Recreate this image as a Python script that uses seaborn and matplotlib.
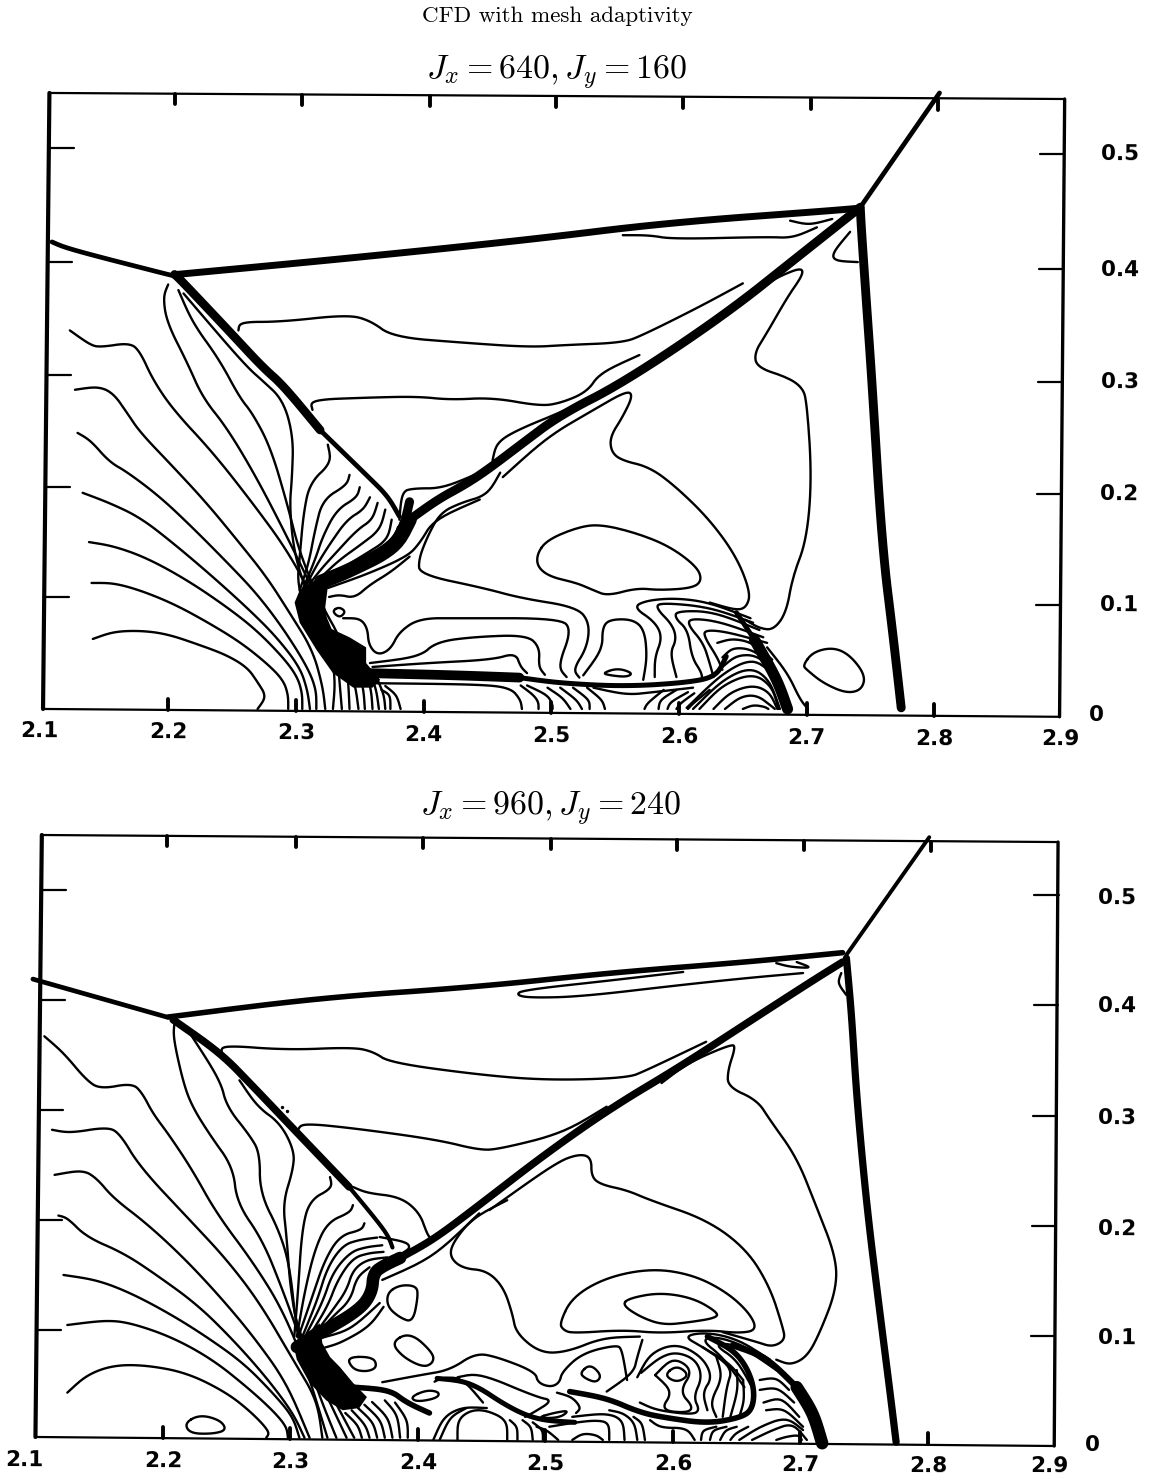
import matplotlib
matplotlib.use("Agg")
import matplotlib.pyplot as plt
import seaborn as sns
import numpy as np

# ---- labels
main_title = "CFD with mesh adaptivity"
top_title = r"$J_x = 640, J_y = 160$"
low_title = r"$J_x = 960, J_y = 240$"
x_labels = ["2.1", "2.2", "2.3", "2.4", "2.5", "2.6", "2.7", "2.8", "2.9"]
y_labels = ["0.5", "0.4", "0.3", "0.2", "0.1", "0"]

# ---- upper panel, contours as (x, y)
top_frame_outer = [(2.107, .550), (2.902, .5446), (2.898, -.007), (2.102, 0), (2.107, .550)]
top_ticks_top = [2.205, 2.305, 2.405, 2.504, 2.603, 2.703, 2.803]
top_ticks_bottom = [2.2, 2.3, 2.4, 2.5, 2.6, 2.7, 2.8]
top_ticks_left = [.501, .399, .298, .198, .100]
top_ticks_right = [.4955, .393, .292, .192, .093]

top_fan = [
    [(2.141,.0625),(2.157,.069),(2.178,.070),(2.199,.067),(2.225,.057),(2.246,.048),(2.262,.037),(2.270,.024),(2.277,.011),(2.270,0)],
    [(2.140,.1125),(2.157,.1125),(2.178,.106),(2.204,.094),(2.230,.078),(2.256,.060),(2.277,.041),(2.290,.026),(2.294,.0125),(2.294,0)],
    [(2.138,.149),(2.157,.1455),(2.183,.135),(2.215,.115),(2.246,.091),(2.269,.0705),(2.290,.046),(2.301,.029),(2.305,.014),(2.305,0)],
    [(2.133,.193),(2.154,.184),(2.178,.171),(2.204,.148),(2.235,.118),(2.264,.088),(2.285,.064),(2.303,.0375),(2.309,.017),(2.311,0)],
    [(2.129,.2465),(2.139,.240),(2.154,.2205),(2.168,.2115),(2.194,.189),(2.219,.162),(2.246,.131),(2.269,.1035),(2.290,.072),(2.309,.0375),(2.316,.017),(2.316,0)],
    [(2.127,.285),(2.145,.288),(2.157,.282),(2.168,.264),(2.178,.247),(2.204,.216),(2.230,.184),(2.256,.148),(2.277,.118),(2.295,.086),(2.313,.053),(2.321,.020),(2.323,0)],
    [(2.123,.338),(2.139,.325),(2.147,.323),(2.170,.327),(2.178,.319),(2.188,.294),(2.204,.267),(2.235,.229),(2.266,.184),(2.293,.142),(2.313,.100),(2.326,.064),(2.331,.026),(2.329,0)],
    [(2.200,.379),(2.196,.368),(2.199,.345),(2.215,.309),(2.227,.278),(2.246,.251),(2.269,.207),(2.293,.154),(2.316,.100),(2.332,.059),(2.334,.026),(2.336,0)],
    [(2.208,.374),(2.219,.345),(2.240,.312),(2.256,.278),(2.266,.264),(2.280,.234),(2.293,.184),(2.303,.139),(2.319,.095),(2.337,.059),(2.341,.026),(2.342,0)],
    [(2.212,.371),(2.248,.323),(2.264,.303),(2.273,.294),(2.290,.276),(2.298,.243),(2.297,.207),(2.295,.180),(2.299,.136),(2.311,.097),(2.329,.068),(2.346,.026),(2.349,0)],
    [(2.325,.236),(2.328,.220),(2.311,.202),(2.306,.175),(2.303,.136),(2.301,.109),(2.315,.062)],
    [(2.342,.209),(2.340,.200),(2.321,.187),(2.315,.160),(2.310,.130),(2.303,.106)],
    [(2.350,.198),(2.348,.189),(2.332,.178),(2.321,.154),(2.315,.133),(2.305,.106)],
    [(2.358,.189),(2.353,.178),(2.340,.169),(2.327,.148),(2.317,.130),(2.306,.106)],
    [(2.364,.184),(2.360,.169),(2.348,.160),(2.331,.139),(2.319,.124),(2.307,.106)],
    [(2.370,.178),(2.366,.160),(2.350,.146),(2.334,.133),(2.320,.118),(2.308,.104)],
    [(2.375,.169),(2.372,.151),(2.354,.138),(2.338,.127),(2.323,.115)],
    [(2.380,.1625),(2.375,.144),(2.358,.133),(2.338,.122)],
    [(2.349,.035),(2.353,.017),(2.354,0)],
    [(2.354,.0365),(2.359,.017),(2.360,0)],
    [(2.358,.033),(2.363,.017),(2.365,0)],
    [(2.364,.026),(2.369,.0125),(2.370,0)],
    [(2.367,.017),(2.374,.0125),(2.374,0)],
    [(2.370,.0205),(2.379,.0125),(2.382,0)],
]
top_blob = [(2.299,.095),(2.303,.106),(2.319,.118),(2.325,.109),(2.323,.091),(2.325,.073),(2.342,.064),(2.355,.055),(2.355,.041),(2.366,.026),(2.360,.019),(2.345,.019),(2.329,.032),(2.316,.053),(2.303,.077)]

top_lines = [
    [(2.325,.108),(2.355,.120),(2.387,.136),(2.397,.148),(2.408,.169),(2.444,.187)],
    [(2.460,.211),(2.450,.191),(2.429,.184),(2.413,.175),(2.403,.154),(2.396,.133),(2.397,.120),(2.447,.108),(2.476,.099),(2.520,.091),(2.530,.077),(2.528,.055),(2.517,.035),(2.522,.028)],
    [(2.326,.100),(2.334,.102),(2.346,.099),(2.358,.111),(2.374,.122),(2.389,.136)],
    [(2.337,.081),(2.350,.081),(2.356,.0725),(2.357,.057),(2.364,.048),(2.374,.053),(2.381,.069),(2.397,.081),(2.428,.081),(2.507,.081),(2.516,.0705),(2.505,.0375),(2.512,.0285)],
    [(2.358,.041),(2.397,.0465),(2.410,.060),(2.441,.0645),(2.481,.066),(2.491,.055),(2.490,.0375),(2.495,.0305)],
    [(2.360,.0375),(2.403,.041),(2.454,.044),(2.472,.050),(2.476,.0375),(2.481,.032)],
    [(2.638,.356),(2.669,.380),(2.681,.3875),(2.696,.394),(2.697,.3875),(2.685,.368),(2.669,.336),(2.659,.318),(2.661,.305),(2.685,.296),(2.696,.2875),(2.700,.276),(2.704,.207),(2.700,.151),(2.689,.118),(2.684,.086),(2.674,.0705),(2.663,.072),(2.652,.0795)],
    [(2.462,.207),(2.497,.243),(2.533,.267),(2.559,.284),(2.564,.280),(2.556,.261),(2.546,.243),(2.547,.2295),(2.555,.222),(2.577,.216),(2.598,.198),(2.624,.169),(2.645,.136),(2.656,.104),(2.653,.091),(2.645,.088),(2.624,.095)],
    [(2.255,.338),(2.256,.3456),(2.288,.3456),(2.340,.352),(2.358,.347),(2.376,.332),(2.431,.327),(2.483,.323),(2.512,.325),(2.556,.327),(2.572,.334),(2.616,.359),(2.650,.380)],
    [(2.313,.267),(2.311,.276),(2.356,.278),(2.395,.279),(2.421,.276),(2.454,.278),(2.491,.2705),(2.507,.273),(2.528,.283),(2.538,.300),(2.569,.316)],
    [(2.381,.169),(2.383,.194),(2.392,.197),(2.415,.197),(2.444,.211)],
    [(2.454,.222),(2.457,.2375),(2.473,.249),(2.512,.267),(2.538,.283)],
    [(2.556,.423),(2.577,.423),(2.595,.4195),(2.669,.4215),(2.689,.4205),(2.708,.430)],
    [(2.687,.436),(2.702,.432),(2.720,.4375)],
    [(2.734,.426),(2.720,.407),(2.722,.400),(2.740,.399)],
    [(2.656,.081),(2.624,.095),(2.598,.099),(2.575,.097),(2.564,.091),(2.581,.078),(2.587,.064),(2.581,.046),(2.581,.0285)],
    [(2.658,.077),(2.624,.091),(2.585,.095),(2.582,.090),(2.595,.075),(2.598,.062),(2.593,.050),(2.598,.0285)],
    [(2.663,.0705),(2.627,.087),(2.598,.0875),(2.597,.081),(2.607,.0705),(2.610,.046),(2.618,.032),(2.618,.025)],
    [(2.666,.064),(2.632,.078),(2.609,.081),(2.607,.075),(2.619,.059),(2.624,.041),(2.627,.0285)],
    [(2.669,.059),(2.637,.069),(2.620,.0705),(2.620,.064),(2.630,.046),(2.634,.035)],
    [(2.650,0),(2.658,.0036),(2.667,.002),(2.670,0)],
    [(2.636,0),(2.648,.011),(2.661,.0125),(2.673,.002),(2.675,0)],
    [(2.627,0),(2.640,.015),(2.658,.0215),(2.671,.015),(2.677,0)],
    [(2.616,0),(2.634,.0215),(2.658,.032),(2.673,.020),(2.678,0)],
    [(2.611,0),(2.634,.026),(2.656,.0375),(2.671,.026),(2.679,0)],
    [(2.606,.001),(2.634,.032),(2.658,.0455),(2.673,.032)],
    [(2.634,.0375),(2.645,.048),(2.661,.048),(2.673,.035)],
    [(2.634,.046),(2.642,.055),(2.658,.053),(2.673,.039)],
    [(2.630,.059),(2.642,.063),(2.658,.059),(2.673,.044)],
    [(2.360,.023),(2.442,.022),(2.468,.019),(2.476,.008),(2.477,0)],
    [(2.476,.021),(2.486,.0125),(2.490,.006),(2.490,0)],
    [(2.481,.021),(2.497,.0125),(2.501,.004),(2.501,0)],
    [(2.497,.019),(2.509,.010),(2.515,0)],
    [(2.507,.019),(2.520,.008),(2.524,0)],
    [(2.517,.019),(2.530,.008),(2.530,0)],
    [(2.528,.019),(2.540,.008),(2.542,0)],
    [(2.533,.019),(2.559,.0125),(2.580,.015),(2.611,.019)],
    [(2.573,0),(2.575,.005),(2.588,.017)],
    [(2.584,0),(2.585,.008),(2.598,.017)],
    [(2.591,0),(2.593,.006),(2.607,.015)],
    [(2.598,0),(2.601,.005),(2.612,.014)],
    [(2.607,0),(2.611,.005),(2.624,.017)],
    [(2.525,.030),(2.540,.053),(2.540,.073),(2.546,.080),(2.564,.080),(2.573,.0705),(2.575,.046),(2.572,.026)],
    [(2.669,.055),(2.685,.032),(2.695,.008),(2.701,0)],
]
top_loops = [
    [(2.329,.088),(2.334,.091),(2.339,.087),(2.335,.082),(2.331,.084)],
    [(2.489,.139),(2.497,.151),(2.520,.162),(2.538,.165),(2.567,.157),(2.593,.145),(2.614,.127),(2.618,.115),(2.611,.108),(2.585,.106),(2.567,.108),(2.544,.101),(2.533,.106),(2.520,.1125),(2.499,.118),(2.489,.127)],
    [(2.540,.032),(2.552,.0365),(2.564,.032),(2.559,.0285),(2.546,.030)],
    [(2.697,.039),(2.705,.051),(2.721,.055),(2.734,.048),(2.746,.030),(2.743,.017),(2.731,.014),(2.713,.023),(2.700,.035)],
]

top_stem_left = [(2.109,.417),(2.121,.411),(2.196,.389),(2.207,.386)]
top_slip = [(2.207,.388),(2.338,.402),(2.483,.419),(2.590,.434),(2.720,.445),(2.740,.447)]
top_ray = [(2.742,.448),(2.804,.550)]
top_shock = [(2.205,.388),(2.209,.384),(2.248,.337),(2.274,.305),(2.290,.289),(2.319,.249)]
top_shock_end = [(2.319,.249),(2.356,.208),(2.372,.190),(2.381,.172)]
top_stem_right = [(2.742,.446),(2.743,.425),(2.747,.359),(2.751,.294),(2.759,.146),(2.768,.062),(2.774,.001)]
top_band = [(2.742,.448),(2.695,.4055),(2.636,.352),(2.556,.291),(2.507,.2625),(2.476,.236),(2.450,.2135),(2.432,.200),(2.411,.187),(2.389,.169)]
top_band_wide = [(2.389,.169),(2.378,.144),(2.339,.122),(2.320,.1135)]
top_junction = [(2.389,.185),(2.385,.165),(2.375,.145)]
top_floor_wide = [(2.356,.032),(2.428,.030),(2.475,.028)]
top_floor = [(2.475,.028),(2.507,.023),(2.559,.020),(2.611,.024),(2.630,.030),(2.637,.047)]
top_bow_upper = [(2.645,.086),(2.659,.062)]
top_bow_lower = [(2.659,.062),(2.677,.026),(2.685,0)]

# ---- lower panel
low_frame_outer = [(2.105, .550), (2.902, .5436), (2.899, -.0055), (2.100, .0027), (2.105, .550)]
low_ticks_top = [2.203, 2.304, 2.404, 2.504, 2.603, 2.703, 2.802]
low_ticks_bottom = [2.2, 2.3, 2.4, 2.5, 2.6, 2.7, 2.8]
low_ticks_left = [.5, .4, .3, .2, .1]
low_ticks_right = [.495, .395, .2945, .1945, .0945]

low_fan = [
    [(2.125,.043),(2.140,.059),(2.161,.068),(2.187,.068),(2.219,.061),(2.250,.043),(2.270,.0245),(2.284,.007),(2.281,.002)],
    [(2.125,.1045),(2.156,.109),(2.176,.106),(2.208,.093),(2.239,.073),(2.266,.048),(2.286,.027),(2.297,.012),(2.298,.002)],
    [(2.122,.150),(2.148,.1455),(2.174,.134),(2.205,.115),(2.234,.094),(2.263,.070),(2.286,.043),(2.302,.021),(2.307,.002)],
    [(2.118,.204),(2.125,.202),(2.140,.1845),(2.169,.170),(2.195,.150),(2.227,.123),(2.255,.091),(2.281,.057),(2.302,.0245),(2.311,.002)],
    [(2.115,.241),(2.137,.2455),(2.148,.238),(2.161,.220),(2.187,.197),(2.216,.166),(2.245,.130),(2.271,.094),(2.297,.052),(2.315,.002)],
    [(2.113,.282),(2.127,.279),(2.156,.2845),(2.166,.279),(2.182,.248),(2.221,.200),(2.250,.164),(2.276,.1245),(2.302,.073),(2.321,.036),(2.325,.002)],
    [(2.107,.367),(2.122,.352),(2.140,.327),(2.151,.319),(2.176,.3245),(2.184,.315),(2.192,.297),(2.205,.277),(2.223,.2455),(2.242,.206),(2.271,.161),(2.294,.118),(2.313,.0635),(2.329,.002)],
    [(2.209,.379),(2.208,.366),(2.216,.3245),(2.223,.303),(2.237,.277),(2.255,.248),(2.258,.2155),(2.278,.182),(2.294,.136),(2.307,.094),(2.323,.039),(2.336,.002)],
    [(2.221,.370),(2.245,.327),(2.250,.303),(2.268,.277),(2.276,.261),(2.276,.2245),(2.292,.188),(2.300,.1545),(2.305,.094),(2.329,.039),(2.344,.002)],
    [(2.260,.327),(2.274,.303),(2.292,.288),(2.303,.263),(2.302,.2455),(2.294,.2155),(2.297,.1845),(2.300,.136),(2.307,.094),(2.333,.039),(2.350,.002)],
    [(2.331,.239),(2.333,.229),(2.315,.218),(2.309,.191),(2.306,.136),(2.303,.094)],
    [(2.349,.2135),(2.347,.207),(2.329,.198),(2.319,.173),(2.311,.134),(2.305,.094)],
    [(2.358,.197),(2.356,.191),(2.339,.186),(2.327,.164),(2.317,.130),(2.306,.093)],
    [(2.368,.184),(2.354,.182),(2.341,.177),(2.329,.157),(2.321,.127),(2.309,.093)],
    [(2.372,.177),(2.360,.1755),(2.347,.171),(2.333,.152),(2.325,.1245),(2.311,.093)],
    [(2.373,.171),(2.362,.170),(2.349,.1655),(2.337,.1455),(2.329,.121),(2.314,.093)],
    [(2.376,.166),(2.360,.164),(2.349,.1545),(2.344,.136),(2.333,.118),(2.317,.093)],
    [(2.362,.157),(2.352,.148),(2.347,.127),(2.333,.112),(2.319,.094)],
    [(2.343,.0245),(2.353,.0135),(2.356,.002)],
    [(2.348,.027),(2.359,.0135),(2.362,.002)],
    [(2.353,.029),(2.365,.016),(2.368,.002)],
    [(2.358,.032),(2.371,.018),(2.374,.002)],
    [(2.364,.0345),(2.377,.020),(2.380,.002)],
    [(2.374,.036),(2.384,.023),(2.386,.002)],
    [(2.382,.034),(2.392,.018),(2.392,.002)],
]
low_blob = [(2.302,.088),(2.323,.106),(2.325,.088),(2.331,.0755),(2.339,.066),(2.349,.052),(2.360,.039),(2.354,.029),(2.341,.027),(2.328,.036),(2.315,.052),(2.305,.073)]

low_lines = [
    [(2.246,.352),(2.246,.359),(2.297,.3545),(2.349,.357),(2.365,.353),(2.378,.343),(2.448,.332),(2.501,.327),(2.564,.329),(2.579,.336),(2.626,.362)],
    [(2.306,.282),(2.309,.288),(2.349,.2835),(2.415,.273),(2.448,.2635),(2.464,.2645),(2.514,.279),(2.548,.303)],
    [(2.456,.209),(2.508,.252),(2.526,.260),(2.536,.257),(2.536,.239),(2.544,.232),(2.564,.227),(2.582,.218),(2.627,.200),(2.658,.173),(2.676,.139),(2.686,.103),(2.688,.091),(2.678,.0845),(2.666,.089),(2.639,.098)],
    [(2.591,.3245),(2.612,.343),(2.646,.360),(2.649,.357),(2.643,.336),(2.643,.321),(2.666,.309),(2.676,.291),(2.697,.257),(2.712,.2135),(2.728,.166),(2.728,.136),(2.715,.097),(2.705,.0755),(2.692,.068),(2.681,.073)],
    [(2.470,.218),(2.443,.202),(2.427,.179),(2.425,.166),(2.435,.156),(2.454,.154),(2.467,.139),(2.474,.115),(2.477,.097),(2.496,.079),(2.517,.080),(2.545,.093),(2.574,.094)],
    [(2.372,.0525),(2.402,.059),(2.425,.0635),(2.445,.079),(2.462,.0755),(2.492,.062),(2.494,.052),(2.504,.048),(2.511,.052),(2.513,.062),(2.529,.079),(2.556,.0865),(2.560,.082),(2.564,.0545)],
    [(2.431,.057),(2.448,.061),(2.493,.039),(2.506,.036),(2.490,.0245),(2.484,.021)],
    [(2.509,.043),(2.521,.039),(2.528,.029),(2.524,.0245)],
    [(2.548,.044),(2.569,.061),(2.572,.0755),(2.576,.091)],
    [(2.586,.059),(2.600,.0755),(2.616,.0635),(2.605,.044),(2.616,.030),(2.611,.0245),(2.590,.027),(2.600,.044),(2.586,.059)],
    [(2.575,.061),(2.590,.0755),(2.603,.080),(2.618,.073),(2.623,.057),(2.616,.039),(2.621,.027),(2.615,.023),(2.587,.027),(2.574,.034)],
    [(2.572,.057),(2.582,.079),(2.603,.088),(2.623,.0755),(2.631,.057),(2.623,.043),(2.627,.027)],
    [(2.634,.0755),(2.639,.057),(2.629,.034),(2.634,.021)],
    [(2.623,.0845),(2.647,.066),(2.642,.048),(2.639,.021)],
    [(2.650,.0635),(2.651,.0455),(2.645,.021)],
    [(2.655,.0545),(2.656,.036),(2.652,.021)],
    [(2.676,.073),(2.652,.091),(2.627,.098),(2.608,.0945),(2.623,.0845),(2.644,.070),(2.655,.0545)],
    [(2.678,.070),(2.655,.086),(2.634,.094),(2.622,.091),(2.639,.0755),(2.656,.048)],
    [(2.681,.0635),(2.658,.082),(2.642,.088),(2.633,.086),(2.650,.073),(2.662,.048)],
    [(2.668,.0545),(2.681,.057),(2.691,.0455)],
    [(2.668,.0455),(2.682,.048),(2.695,.034)],
    [(2.671,.034),(2.685,.039),(2.699,.021)],
    [(2.673,.027),(2.687,.029),(2.702,.012)],
    [(2.652,0),(2.668,.012),(2.689,.021),(2.702,.009)],
    [(2.662,0),(2.678,.009),(2.694,.0155),(2.705,0)],
    [(2.681,0),(2.689,.003),(2.699,.0045),(2.701,0)],
    [(2.412,0),(2.420,.021),(2.435,.030),(2.454,.029)],
    [(2.417,0),(2.425,.021),(2.438,.029)],
    [(2.431,0),(2.431,.018),(2.441,.027),(2.454,.027),(2.470,.018),(2.470,0)],
    [(2.478,0),(2.478,.012),(2.472,.018)],
    [(2.490,0),(2.489,.012),(2.482,.018)],
    [(2.498,0),(2.498,.009),(2.490,.016)],
    [(2.510,0),(2.501,.009),(2.493,.012)],
    [(2.521,0),(2.529,.006),(2.540,.0045),(2.545,0)],
    [(2.550,0),(2.550,.0155),(2.540,.018),(2.521,.0155),(2.503,.012)],
    [(2.562,0),(2.561,.018),(2.548,.0245),(2.521,.021)],
    [(2.572,0),(2.570,.0155),(2.561,.0245),(2.550,.027)],
    [(2.578,0),(2.576,.0155),(2.569,.021)],
    [(2.582,.018),(2.590,.011),(2.611,.011),(2.617,0)],
    [(2.622,0),(2.623,.009),(2.634,.012)],
    [(2.629,0),(2.631,.009),(2.642,.012)],
    [(2.637,0),(2.641,.009),(2.650,.012)],
    [(2.645,0),(2.649,.006),(2.659,.012)],
    [(2.413,.053),(2.420,.057),(2.435,.056),(2.451,.034)],
    [(2.608,.4255),(2.553,.418),(2.482,.409),(2.477,.4045),(2.488,.402),(2.527,.403),(2.605,.4135),(2.658,.420),(2.702,.4245)],
    [(2.681,.4335),(2.692,.430),(2.710,.429),(2.697,.4345)],
    [(2.732,.4245),(2.729,.4155),(2.736,.4045)],
    [(2.370,.1845),(2.391,.180),(2.394,.1745),(2.388,.170)],
    [(2.349,.230),(2.360,.2245),(2.386,.221),(2.401,.207),(2.407,.188),(2.409,.1845)],
    [(2.372,.1455),(2.412,.166),(2.448,.206)],
    [(2.325,.093),(2.347,.100),(2.370,.1245)],
    [(2.327,.084),(2.339,.088),(2.362,.103),(2.373,.121)],
]
low_loops = [
    [(2.376,.134),(2.386,.141),(2.399,.140),(2.400,.130),(2.396,.107),(2.386,.111),(2.376,.121)],
    [(2.379,.089),(2.394,.098),(2.412,.079),(2.412,.070),(2.404,.066),(2.388,.0755)],
    [(2.344,.0755),(2.365,.0755),(2.368,.066),(2.360,.062),(2.349,.064)],
    [(2.217,.0155),(2.229,.023),(2.245,.018),(2.250,.009),(2.239,.0055),(2.221,.006)],
    [(2.511,.106),(2.521,.130),(2.548,.148),(2.584,.156),(2.616,.150),(2.642,.1345),(2.660,.1155),(2.666,.100),(2.652,.097),(2.627,.100),(2.590,.097),(2.561,.100),(2.521,.097),(2.514,.100)],
    [(2.560,.123),(2.566,.129),(2.590,.134),(2.616,.129),(2.635,.116),(2.634,.111),(2.613,.107),(2.592,.1045),(2.574,.112)],
    [(2.527,.061),(2.535,.069),(2.544,.059),(2.540,.052),(2.531,.056)],
    [(2.593,.059),(2.603,.068),(2.613,.059),(2.603,.052)],
    [(2.493,.020),(2.506,.0245),(2.519,.027),(2.511,.020)],
    [(2.394,.039),(2.407,.0455),(2.417,.0435),(2.415,.038),(2.399,.0345)],
]

low_stem_left = [(2.098,.419),(2.203,.3845)]
low_slip = [(2.204,.3845),(2.323,.402),(2.448,.412),(2.553,.425),(2.658,.4345),(2.733,.443)]
low_ray = [(2.736,.441),(2.801,.548)]
low_stem_right = [(2.736,.438),(2.740,.388),(2.744,.312),(2.752,.212),(2.762,.118),(2.770,.0455),(2.775,-.002)]
low_shock = [(2.208,.382),(2.245,.352),(2.271,.321),(2.303,.282),(2.346,.230)]
low_shock_end = [(2.346,.230),(2.376,.188),(2.380,.175)]
low_band = [(2.733,.4345),(2.710,.418),(2.658,.379),(2.605,.339),(2.553,.303),(2.501,.261),(2.448,.2135),(2.412,.182),(2.386,.1655)]
low_band_wide = [(2.386,.1655),(2.374,.159),(2.365,.152),(2.364,.134),(2.354,.118),(2.323,.097),(2.305,.0845)]
low_tail = [(2.349,.048),(2.378,.0455),(2.391,.034),(2.409,.0245)]
low_curl = [(2.415,.056),(2.441,.053),(2.472,.029),(2.495,.018),(2.523,.016)]
low_sheet = [(2.519,.044),(2.548,.038),(2.574,.025),(2.595,.020),(2.627,.015),(2.652,.020),(2.662,.027),(2.664,.0455),(2.658,.066),(2.647,.082),(2.627,.094)]
low_bow_upper = [(2.647,.086),(2.673,.0755),(2.697,.048)]
low_bow_lower = [(2.697,.048),(2.710,.0245),(2.717,-.003)]
low_specks_x = [2.293, 2.297]
low_specks_y = [.303, .299]

# ---- positions of the printed labels on the scan, in chart units
top_xlabel_x = [2.0995, 2.2, 2.3, 2.4, 2.5, 2.6, 2.7, 2.8, 2.899]
top_xlabel_y = [-.020, -.021, -.022, -.023, -.024, -.025, -.026, -.027, -.027]
top_ylabel_x = [2.945, 2.945, 2.945, 2.945, 2.945, 2.927]
top_ylabel_y = [.495, .392, .292, .192, .093, -.005]
low_xlabel_x = [2.091, 2.2, 2.3, 2.4, 2.5, 2.6, 2.7, 2.8, 2.895]
low_xlabel_y = [-.018, -.019, -.020, -.021, -.022, -.022, -.023, -.024, -.024]
low_ylabel_x = [2.948, 2.948, 2.948, 2.948, 2.948, 2.929]
low_ylabel_y = [.493, .394, .293, .192, .093, -.005]

THIN = 1.7


def round_off(a, closed):
    #corner cutting so the pen line looks drawn and not polygonal
    for _ in range(3):
        if closed:
            b = np.roll(a[:-1], -1, axis=0)
            q = .75 * a[:-1] + .25 * b
            r = .25 * a[:-1] + .75 * b
            a = np.empty((2 * len(q) + 1, 2))
            a[0:-1:2], a[1:-1:2] = q, r
            a[-1] = a[0]
        else:
            q = .75 * a[:-1] + .25 * a[1:]
            r = .25 * a[:-1] + .75 * a[1:]
            mid = np.empty((2 * len(q), 2))
            mid[0::2], mid[1::2] = q, r
            a = np.vstack([a[:1], mid[1:-1], a[-1:]])
    return a


def draw(ax, pts, lw=THIN, closed=False, smooth=True):
    a = np.array(pts + pts[:1] if closed else pts, dtype=float)
    if smooth and len(a) > 2:
        a = round_off(a, closed)
    sns.lineplot(x=a[:, 0], y=a[:, 1], sort=False, estimator=None, color="black",
                 linewidth=lw, legend=False, ax=ax, solid_capstyle="round", solid_joinstyle="round")


sns.set_style("white")
plt.rcParams["mathtext.fontset"] = "cm"
plt.rcParams["text.color"] = "black"

fig = plt.figure(figsize=(11.63, 14.79), dpi=100)
ax1 = fig.add_axes([0, 1 - 770 / 1479, 1, 770 / 1479])
ax2 = fig.add_axes([0, 0, 1, 709 / 1479])
ax1.set_xlim(2.0683, 2.9790)
ax1.set_ylim(-.0545, .633)
ax2.set_xlim(2.0722, 2.9843)
ax2.set_ylim(-.0355, .6091)

#Upper panel
for line in top_fan + top_lines:
    draw(ax1, line)
for line in top_loops:
    draw(ax1, line, closed=True)
ax1.fill(*zip(*top_blob), color="black", lw=0)
draw(ax1, top_stem_left, 3.4)
draw(ax1, top_slip, 5)
draw(ax1, top_ray, 3.4)
draw(ax1, top_shock, 6.2)
draw(ax1, top_shock_end, 3.4)
draw(ax1, top_stem_right, 6.4)
draw(ax1, top_band, 6.4)
draw(ax1, top_band_wide, 10.5)
draw(ax1, top_junction, 6.5)
draw(ax1, top_floor_wide, 7)
draw(ax1, top_floor, 3.6)
draw(ax1, top_bow_upper, 3.5)
draw(ax1, top_bow_lower, 8)

#Lower panel
for line in low_fan + low_lines:
    draw(ax2, line)
for line in low_loops:
    draw(ax2, line, closed=True)
ax2.fill(*zip(*low_blob), color="black", lw=0)
draw(ax2, low_stem_left, 3.4)
draw(ax2, low_slip, 4)
draw(ax2, low_ray, 2.8)
draw(ax2, low_stem_right, 5.2)
draw(ax2, low_shock, 5.4)
draw(ax2, low_shock_end, 3)
draw(ax2, low_band, 5.4)
draw(ax2, low_band_wide, 9)
draw(ax2, low_tail, 4)
draw(ax2, low_curl, 3.6)
draw(ax2, low_sheet, 4)
draw(ax2, low_bow_upper, 4.5)
draw(ax2, low_bow_lower, 9)
sns.scatterplot(x=low_specks_x, y=low_specks_y, s=6, color="black", linewidth=0, ax=ax2, legend=False)

#Frames and ticks, the scan sits a bit crooked so they are drawn by hand
for ax, frame, t_top, t_bot, t_left, t_right in [
        (ax1, top_frame_outer, top_ticks_top, top_ticks_bottom, top_ticks_left, top_ticks_right),
        (ax2, low_frame_outer, low_ticks_top, low_ticks_bottom, low_ticks_left, low_ticks_right)]:
    draw(ax, [frame[0], frame[1]], 1.6, smooth=False)
    draw(ax, [frame[1], frame[2]], 2.4, smooth=False)
    draw(ax, [frame[2], frame[3]], 1.6, smooth=False)
    draw(ax, [frame[3], frame[4]], 3.0, smooth=False)
    for v in t_top:
        y = frame[0][1] - (v - frame[0][0]) * .0085
        draw(ax, [(v, y), (v, y - .009)], 2.8, smooth=False)
    for v in t_bot:
        y = frame[3][1] - (v - frame[3][0]) * .0085
        draw(ax, [(v, y), (v, y + .010)], 2.8, smooth=False)
    for v in t_left:
        x0 = frame[3][0] + v * .01
        draw(ax, [(x0, v), (x0 + .019, v)], 1.6, smooth=False)
    for v in t_right:
        x1 = frame[2][0] + v * .007
        draw(ax, [(x1 - .019, v), (x1, v)], 1.6, smooth=False)
    ax.set_axis_off()

#Tick labels
label_font = dict(family="DejaVu Sans", fontweight="bold", fontsize=15.5, ha="center", va="center", rotation=-0.4)
for lab, x, y in zip(x_labels, top_xlabel_x, top_xlabel_y):
    ax1.text(x, y, lab, **label_font)
for lab, x, y in zip(y_labels, top_ylabel_x, top_ylabel_y):
    ax1.text(x, y, lab, **label_font)
for lab, x, y in zip(x_labels, low_xlabel_x, low_xlabel_y):
    ax2.text(x, y, lab, **label_font)
for lab, x, y in zip(y_labels, low_ylabel_x, low_ylabel_y):
    ax2.text(x, y, lab, **label_font)

fig.text(557 / 1163, 1 - 16 / 1479, main_title, family=["cmr10", "DejaVu Serif"], fontsize=16.6, ha="center", va="center")
fig.text(557 / 1163, 1 - 72 / 1479, top_title, fontsize=24.4, ha="center", va="center")
fig.text(551 / 1163, 1 - 808 / 1479, low_title, fontsize=24.4, ha="center", va="center")

fig.savefig("out.png", dpi=100, facecolor="white")
